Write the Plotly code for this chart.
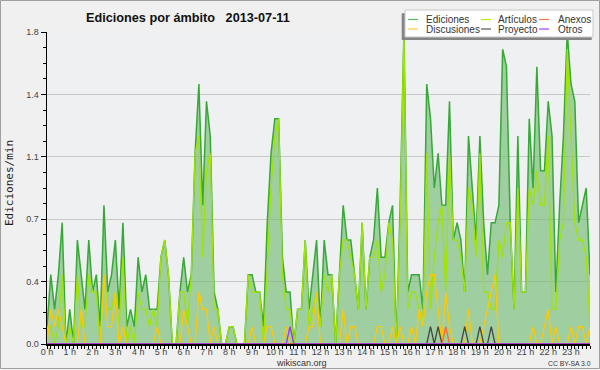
import plotly.graph_objects as go

# ---------------- data (10-minute bins, edits per minute) ----------------
minutes = list(range(0, 1440, 10))
hour_labels = [f"{h} h" for h in range(24)]
hour_vals = list(range(24))
y_tickvals = [0, 0.36, 0.72, 1.08, 1.44, 1.8]
y_ticktext = ["0.0", "0.4", "0.7", "1.1", "1.4", "1.8"]

ediciones = [
    0.1, 0.4, 0.2, 0.4, 0.7, 0.0,
    0.2, 0.0, 0.6, 0.4, 0.2, 0.6,
    0.3, 0.4, 0.1, 0.8, 0.3, 0.4,
    0.6, 0.2, 0.7, 0.1, 0.2, 0.1,
    0.5, 0.3, 0.4, 0.2, 0.2, 0.2,
    0.5, 0.6, 0.4, 0.0, 0.0, 0.3,
    0.5, 0.3, 0.4, 1.1, 1.5, 0.8,
    1.4, 1.2, 0.3, 0.2, 0.0, 0.0,
    0.1, 0.1, 0.0, 0.0, 0.0, 0.4,
    0.4, 0.3, 0.3, 0.1, 0.7, 1.1,
    1.3, 1.3, 0.5, 0.3, 0.3, 0.0,
    0.2, 0.2, 0.6, 0.2, 0.4, 0.6,
    0.1, 0.6, 0.4, 0.4, 0.0, 0.4,
    0.8, 0.6, 0.6, 0.4, 0.2, 0.7,
    0.2, 0.5, 0.6, 0.9, 0.5, 0.5,
    0.7, 0.8, 0.0, 0.8, 1.8, 0.3,
    0.4, 0.4, 0.4, 0.2, 1.5, 1.3,
    0.9, 1.1, 0.8, 0.8, 1.4, 0.6,
    0.7, 0.6, 0.3, 1.2, 0.9, 0.6,
    1.2, 0.7, 0.4, 0.7, 0.7, 0.8,
    1.7, 1.6, 0.7, 0.2, 1.2, 0.3,
    0.3, 1.3, 0.9, 1.6, 1.0, 1.0,
    1.4, 1.2, 0.3, 0.8, 1.2, 1.8,
    1.5, 1.4, 0.7, 0.8, 0.9, 0.4,
]

articulos = [
    0.1, 0.1, 0.0, 0.1, 0.4, 0.0,
    0.1, 0.0, 0.4, 0.1, 0.1, 0.4,
    0.3, 0.3, 0.0, 0.4, 0.2, 0.2,
    0.3, 0.1, 0.5, 0.0, 0.1, 0.0,
    0.3, 0.2, 0.2, 0.1, 0.2, 0.1,
    0.5, 0.6, 0.4, 0.0, 0.0, 0.3,
    0.3, 0.1, 0.4, 1.1, 1.2, 0.5,
    1.0, 1.1, 0.2, 0.2, 0.0, 0.0,
    0.1, 0.1, 0.0, 0.0, 0.0, 0.4,
    0.3, 0.3, 0.3, 0.0, 0.5, 0.9,
    1.2, 1.3, 0.4, 0.2, 0.2, 0.0,
    0.2, 0.2, 0.6, 0.1, 0.2, 0.3,
    0.1, 0.4, 0.3, 0.4, 0.0, 0.4,
    0.6, 0.6, 0.5, 0.4, 0.2, 0.7,
    0.2, 0.5, 0.5, 0.6, 0.3, 0.4,
    0.7, 0.6, 0.0, 0.7, 1.8, 0.2,
    0.3, 0.3, 0.2, 0.1, 1.1, 0.2,
    0.5, 0.7, 0.8, 0.3, 1.1, 0.6,
    0.6, 0.5, 0.3, 0.9, 0.8, 0.5,
    1.1, 0.3, 0.3, 0.2, 0.2, 0.6,
    0.5, 0.7, 0.7, 0.2, 0.9, 0.3,
    0.3, 0.9, 0.8, 1.0, 0.8, 0.8,
    1.2, 0.2, 0.2, 0.6, 0.7, 1.7,
    1.2, 0.7, 0.6, 0.6, 0.5, 0.1,
]

discusiones = [
    0.0, 0.2, 0.1, 0.2, 0.1, 0.0,
    0.0, 0.0, 0.0, 0.2, 0.0, 0.0,
    0.0, 0.0, 0.0, 0.4, 0.1, 0.1,
    0.3, 0.0, 0.1, 0.0, 0.0, 0.0,
    0.0, 0.0, 0.0, 0.0, 0.0, 0.1,
    0.0, 0.0, 0.0, 0.0, 0.0, 0.0,
    0.2, 0.1, 0.0, 0.0, 0.3, 0.2,
    0.2, 0.0, 0.1, 0.0, 0.0, 0.0,
    0.0, 0.0, 0.0, 0.0, 0.0, 0.0,
    0.1, 0.0, 0.0, 0.0, 0.1, 0.1,
    0.0, 0.0, 0.0, 0.1, 0.0, 0.0,
    0.0, 0.0, 0.0, 0.1, 0.1, 0.3,
    0.0, 0.0, 0.0, 0.0, 0.0, 0.0,
    0.2, 0.0, 0.1, 0.1, 0.0, 0.0,
    0.0, 0.0, 0.0, 0.1, 0.1, 0.0,
    0.0, 0.1, 0.0, 0.1, 0.0, 0.0,
    0.1, 0.0, 0.2, 0.1, 0.3, 0.4,
    0.4, 0.2, 0.0, 0.3, 0.1, 0.0,
    0.0, 0.0, 0.0, 0.2, 0.0, 0.0,
    0.0, 0.1, 0.2, 0.3, 0.4, 0.0,
    0.0, 0.0, 0.0, 0.0, 0.0, 0.0,
    0.0, 0.0, 0.1, 0.0, 0.0, 0.1,
    0.2, 0.0, 0.1, 0.0, 0.0, 0.0,
    0.1, 0.0, 0.1, 0.1, 0.0, 0.1,
]

proyecto = [
    0, 0, 0, 0, 0, 0,  0, 0, 0, 0, 0, 0,  0, 0, 0, 0, 0, 0,
    0, 0, 0, 0, 0, 0,  0, 0, 0, 0, 0, 0,  0, 0, 0, 0, 0, 0,
    0, 0, 0, 0, 0, 0,  0, 0, 0, 0, 0, 0,  0, 0, 0, 0, 0, 0,
    0, 0, 0, 0, 0, 0,  0, 0, 0, 0, 0, 0,  0, 0, 0, 0, 0, 0,
    0, 0, 0, 0, 0, 0,  0, 0, 0, 0, 0, 0,  0, 0, 0, 0, 0, 0,
    0, 0, 0, 0, 0, 0,  0, 0, 0, 0, 0, 0.1,
    0, 0.1, 0, 0, 0, 0,  0, 0, 0.1, 0, 0, 0,
    0.1, 0, 0, 0.1, 0, 0,  0, 0, 0, 0, 0, 0,
    0, 0, 0, 0, 0, 0,  0, 0, 0, 0, 0, 0,  0, 0, 0, 0, 0, 0,
]

anexos = [
    0, 0, 0, 0, 0, 0,  0, 0, 0, 0, 0, 0,  0, 0, 0, 0, 0, 0,
    0, 0, 0, 0, 0, 0,  0, 0, 0, 0, 0, 0,  0, 0, 0, 0, 0, 0,
    0, 0, 0, 0, 0, 0,  0, 0, 0, 0, 0, 0,  0, 0, 0, 0, 0, 0,
    0, 0, 0, 0, 0, 0,  0, 0, 0, 0, 0, 0,  0, 0, 0, 0, 0, 0,
    0, 0, 0, 0, 0, 0,  0, 0, 0, 0, 0, 0,  0, 0, 0, 0, 0, 0,
    0, 0, 0, 0, 0, 0,  0, 0, 0, 0, 0, 0,
    0, 0, 0, 0.1, 0, 0,  0, 0, 0, 0, 0, 0,
    0, 0, 0, 0, 0, 0,  0, 0, 0, 0, 0, 0,
    0, 0, 0, 0, 0, 0,  0, 0, 0, 0, 0, 0,  0, 0, 0, 0, 0, 0,
]

otros = [
    0, 0, 0, 0, 0, 0,  0, 0, 0, 0, 0, 0,  0, 0, 0, 0, 0, 0,
    0, 0, 0, 0, 0, 0,  0, 0, 0, 0, 0, 0,  0, 0, 0, 0, 0, 0,
    0, 0, 0, 0, 0, 0,  0, 0, 0, 0, 0, 0,  0, 0, 0, 0, 0, 0,
    0, 0, 0, 0, 0, 0,  0, 0, 0, 0, 0.1, 0,  0, 0, 0, 0, 0, 0,
    0, 0, 0, 0, 0, 0,  0, 0, 0, 0, 0, 0,  0, 0, 0, 0, 0, 0,
    0, 0, 0, 0, 0, 0,  0, 0, 0, 0, 0, 0,
    0, 0, 0, 0, 0, 0,  0, 0, 0, 0, 0, 0,
    0, 0, 0, 0, 0, 0,  0, 0, 0, 0, 0, 0,
    0, 0, 0, 0, 0, 0,  0, 0, 0, 0, 0, 0,  0, 0, 0, 0, 0, 0,
]

series = [
    ("Artículos", articulos, "#a0e400"),
    ("Discusiones", discusiones, "#ffc800"),
    ("Proyecto", proyecto, "#454545"),
    ("Anexos", anexos, "#ff6633"),
    ("Otros", otros, "#9933ff"),
]

legend_rows = [
    [("Ediciones", "#55c055"), ("Artículos", "#b8f000"), ("Anexos", "#ff7744")],
    [("Discusiones", "#ffcc33"), ("Proyecto", "#555555"), ("Otros", "#9944ff")],
]

# ---------------- geometry ----------------
W, H = 600, 370
ML, MR, MT, MB = 47, 10, 32, 26
PW = W - ML - MR
PH = H - MT - MB


def px(xp):
    return (xp - ML) / PW


def py(yp):
    return (H - MB - yp) / PH


x = [m / 60 for m in minutes]

fig = go.Figure()
fig.add_trace(go.Scatter(
    x=x, y=ediciones, mode="lines", fill="tozeroy",
    fillcolor="rgba(110,185,110,0.62)",
    line=dict(color="#36a936", width=1.5), name="Ediciones",
    showlegend=False, hoverinfo="skip"))
for name, vals, color in series:
    fig.add_trace(go.Scatter(
        x=x, y=vals, mode="lines", line=dict(color=color, width=1.3),
        name=name, showlegend=False, hoverinfo="skip"))

tick_font = dict(family="Liberation Sans Narrow, Liberation Sans, sans-serif", size=9, color="#444")

fig.update_xaxes(
    range=[0, minutes[-1] / 60], tickmode="array", tickvals=hour_vals, ticktext=hour_labels,
    ticks="outside", ticklen=3, tickcolor="black", tickwidth=1, ticklabelstandoff=-4,
    minor=dict(ticks="outside", ticklen=3, dtick=1 / 6, tick0=0, tickcolor="black", tickwidth=1),
    showline=True, linecolor="black", linewidth=1.5, showgrid=False, zeroline=False,
    tickfont=tick_font, fixedrange=True)
fig.update_yaxes(
    range=[0, 1.8], tickmode="array", tickvals=y_tickvals, ticktext=y_ticktext,
    ticks="outside", ticklen=5, tickcolor="black", tickwidth=1,
    minor=dict(ticks="outside", ticklen=3, dtick=0.09, tick0=0, tickcolor="black", tickwidth=1),
    showline=True, linecolor="black", linewidth=1.5, showgrid=True, gridcolor="#c9c9c9",
    gridwidth=1, zeroline=False, tickfont=tick_font, fixedrange=True)

shapes = []
annotations = []

# outer border
shapes.append(dict(type="rect", xref="paper", yref="paper",
                   x0=px(0.5), x1=px(599.5), y0=py(0.5), y1=py(368.5),
                   line=dict(color="#a0a0a0", width=1), fillcolor="rgba(0,0,0,0)", layer="below"))

# legend box with shadow
shapes.append(dict(type="rect", xref="paper", yref="paper",
                   x0=px(401.7), x1=px(591.7), y0=py(13.3), y1=py(40),
                   line=dict(width=0), fillcolor="#858585"))
shapes.append(dict(type="rect", xref="paper", yref="paper",
                   x0=px(405), x1=px(593), y0=py(10), y1=py(37),
                   line=dict(color="#c8c8c8", width=1), fillcolor="white"))

col_line_x = [(408, 418), (481, 491), (539, 549)]
col_text_x = [424, 496, 556]
row_y = [19.5, 29]
for r, row in enumerate(legend_rows):
    for c, (label, color) in enumerate(row):
        shapes.append(dict(type="line", xref="paper", yref="paper",
                           x0=px(col_line_x[c][0]), x1=px(col_line_x[c][1]),
                           y0=py(row_y[r]), y1=py(row_y[r]),
                           line=dict(color=color, width=1.2)))
        annotations.append(dict(text=label, xref="paper", yref="paper",
                                x=px(col_text_x[c]), y=py(row_y[r]), xanchor="left", yanchor="middle",
                                showarrow=False,
                                font=dict(family="Liberation Sans, sans-serif", size=10, color="#333")))

# title
annotations.append(dict(text="<b>Ediciones por ámbito\u00a0\u00a0\u00a02013-07-11</b>",
                        xref="paper", yref="paper", x=px(187.5), y=py(18),
                        xanchor="center", yanchor="middle", showarrow=False,
                        font=dict(family="Liberation Sans, sans-serif", size=12.7, color="#111")))
# y axis title
annotations.append(dict(text="Ediciones/min", xref="paper", yref="paper",
                        x=px(10), y=py(183), xanchor="center", yanchor="middle",
                        textangle=-90, showarrow=False,
                        font=dict(family="DejaVu Sans Mono, monospace", size=11, color="#222")))
# footer
annotations.append(dict(text="wikiscan.org", xref="paper", yref="paper",
                        x=px(301), y=py(362.5), xanchor="center", yanchor="middle",
                        showarrow=False,
                        font=dict(family="Liberation Sans, sans-serif", size=9, color="#333")))
annotations.append(dict(text="CC BY-SA 3.0", xref="paper", yref="paper",
                        x=px(569), y=py(363), xanchor="center", yanchor="middle",
                        showarrow=False,
                        font=dict(family="Liberation Sans, sans-serif", size=6.8, color="#333")))

fig.update_layout(
    width=W, height=H, margin=dict(l=ML, r=MR, t=MT, b=MB),
    paper_bgcolor="#f0f0f0", plot_bgcolor="#eff0f2",
    showlegend=False, hovermode=False,
    shapes=shapes, annotations=annotations,
)

fig.write_html(
    "out.html",
    config={"displayModeBar": False, "staticPlot": True},
    post_script="document.body.style.margin='0';document.body.style.padding='0';"
                "document.body.style.overflow='hidden';",
)
